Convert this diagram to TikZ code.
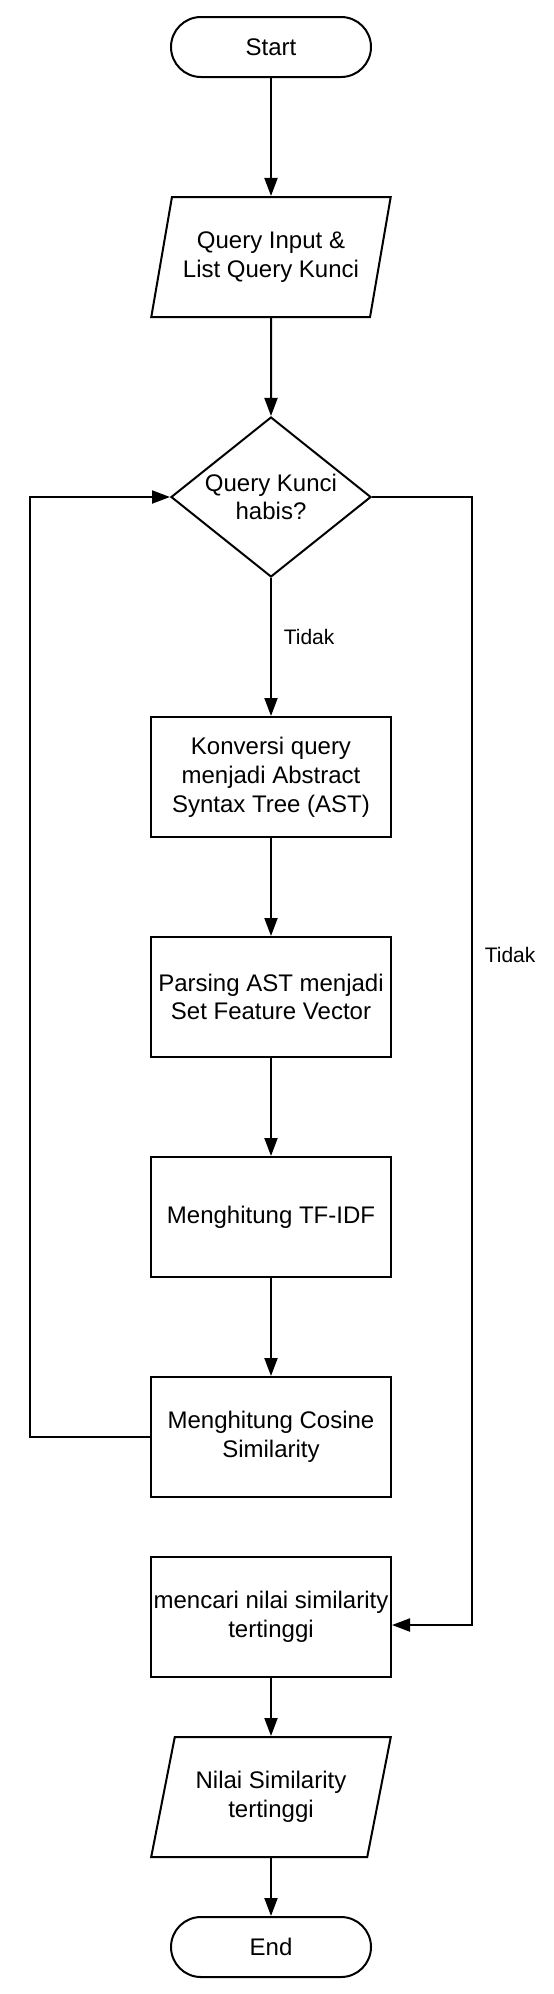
\documentclass[tikz,border=0pt]{standalone}
\usepackage{fontspec}
\setmainfont{Liberation Sans}
\usetikzlibrary{shapes.geometric,arrows.meta}

\tikzstyle{base} = [draw=black, line width=2pt, fill=white, text=black, align=center, font=\fontsize{24pt}{28.8pt}\selectfont]
\tikzstyle{term} = [base, rectangle, rounded corners=30pt, minimum width=200pt, minimum height=60pt]
\tikzstyle{io}   = [base, trapezium, trapezium left angle=71.57, trapezium right angle=108.43, trapezium stretches=true, minimum width=240pt, minimum height=120pt]
\tikzstyle{dec}  = [base, diamond, shape aspect=1.25, inner sep=0pt, minimum width=200pt, minimum height=160pt]
\tikzstyle{proc} = [base, rectangle, inner sep=2pt, minimum width=240pt, minimum height=120pt]
\tikzstyle{lbl}  = [right, xshift=8.5pt, text=black, font=\fontsize{21pt}{25pt}\selectfont]
\tikzstyle{arrow} = [line width=2pt, -{Triangle[length=18pt,width=13pt]}]

\begin{document}
\begin{tikzpicture}[node distance=220pt]
\useasboundingbox (0,0) rectangle (554pt,-1994pt);

%% Nodes
\node (start) [term] at (271pt,-47pt) {Start};
\node (inp)   [io, below of=start, yshift=10pt] {Query Input \&\\List Query Kunci};
\node (habis) [dec, below of=inp, yshift=-20pt] {Query Kunci\\habis?};
\node (konv)  [proc, below of=habis, yshift=-60pt] {Konversi query\\menjadi Abstract\\Syntax Tree (AST)};
\node (pars)  [proc, below of=konv] {Parsing AST menjadi\\Set Feature Vector};
\node (tfidf) [proc, below of=pars] {Menghitung TF-IDF};
\node (cos)   [proc, below of=tfidf] {Menghitung Cosine\\Similarity};
\node (cari)  [proc, below of=cos, yshift=40pt] {mencari nilai similarity\\tertinggi};
\node (outp)  [io, below of=cari, yshift=40pt] {Nilai Similarity\\tertinggi};
\node (stop)  [term, below of=outp, yshift=70pt] {End};

%% Arrows
\draw [arrow] (start) -- (inp);
\draw [arrow] (inp) -- (habis);
\draw [arrow] (habis) -- node[lbl, pos=0.43] {Tidak} (konv);
\draw [arrow] (konv) -- (pars);
\draw [arrow] (pars) -- (tfidf);
\draw [arrow] (tfidf) -- (cos);
\draw [arrow] (cos.west) -- ++(-120pt,0) |- (habis.west);
\draw [arrow] (habis.east) -- ++(100pt,0) |- node[lbl, pos=0.203] {Tidak} ([yshift=-8pt]cari.east);
\draw [arrow] (cari) -- (outp);
\draw [arrow] (outp) -- (stop);
\end{tikzpicture}
\end{document}
